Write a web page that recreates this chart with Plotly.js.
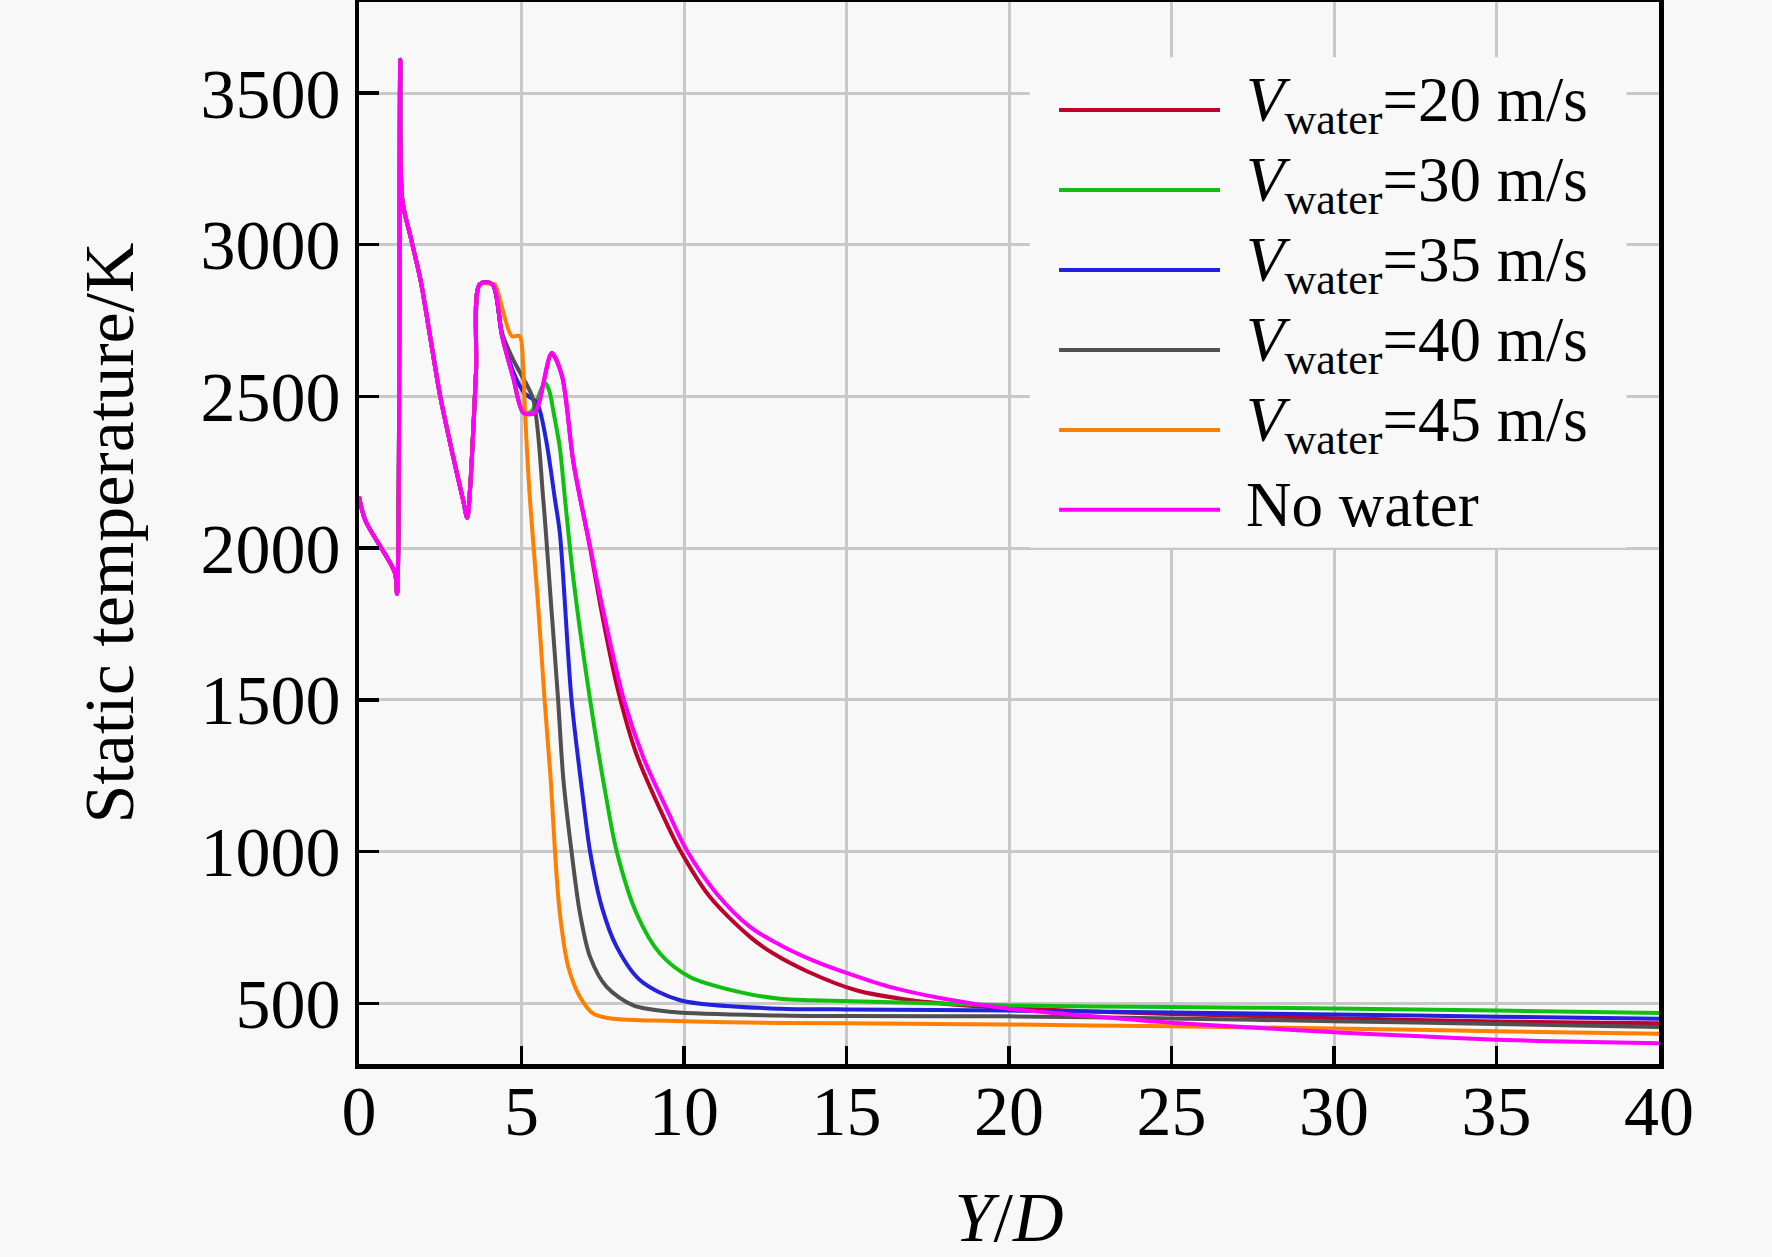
<!DOCTYPE html>
<html>
<head>
<meta charset="utf-8">
<script src="https://cdn.plot.ly/plotly-3.0.1.min.js"></script>
<style>
    html, body { margin: 0; padding: 0; background: #f8f8f8; }
    #temp-graph-container { width: 1772px; height: 1257px; }
</style>
</head>
<body>
<div id="temp-graph-container"></div>
<script>
//  ###################### DATA ######################

// part shared by every case, before the curves split
const baseYD   = [0, 0.2, 1.1, 1.17, 1.27, 1.33, 1.6, 1.9, 2.2, 2.5, 2.9, 3.2, 3.33, 3.42, 3.6, 3.72, 4.1];
const baseTemp = [2170, 2090, 1920, 1850, 3610, 3150, 3020, 2880, 2690, 2500, 2300, 2160, 2100, 2200, 2580, 2870, 2870];

const v20YD   = [4.4, 4.75, 5.06, 5.4, 5.93, 6.24, 6.6, 7.11, 7.5, 7.95, 8.54, 9.26, 9.85, 10.8, 12.03, 12.75, 13.8, 15.3, 17, 19, 20, 22.5, 25, 27.5, 30, 32.5, 35, 37.5, 40];
const v20Temp = [2700, 2560, 2446, 2446, 2640, 2570, 2281, 2000, 1770, 1540, 1320, 1140, 1010, 850, 719, 664, 605, 543, 510, 490, 484, 473, 465, 458, 451, 445, 440, 437, 434];

const v30YD   = [4.4, 4.75, 5.06, 5.3, 5.72, 5.85, 6.0, 6.18, 6.34, 6.6, 7.11, 7.62, 7.93, 8.54, 9.26, 10.18, 11.72, 12.95, 13.9, 16.7, 20, 25, 30, 35, 40];
const v30Temp = [2700, 2560, 2446, 2450, 2545, 2520, 2440, 2330, 2160, 1896, 1500, 1170, 1000, 796, 664, 587, 537, 515, 510, 503, 493, 488, 483, 476, 468];

const v35YD   = [4.4, 4.75, 5.1, 5.47, 5.75, 6.03, 6.18, 6.54, 6.9, 7.11, 7.47, 7.93, 8.65, 9.88, 12.95, 15, 20, 25, 30, 35, 40];
const v35Temp = [2705, 2580, 2510, 2480, 2360, 2160, 2050, 1500, 1170, 1000, 818, 686, 576, 510, 482, 480, 476, 470, 463, 456, 449];

const v40YD   = [4.4, 4.75, 5.0, 5.36, 5.67, 5.9, 6.12, 6.29, 6.54, 6.8, 7.11, 7.62, 8.44, 9.67, 12.95, 15, 20, 25, 30, 35, 40];
const v40Temp = [2710, 2620, 2570, 2490, 2160, 1830, 1510, 1236, 1000, 796, 653, 554, 493, 471, 460, 458, 457, 450, 441, 432, 422];

const v45YD   = [4.18, 4.7, 4.94, 5.05, 5.11, 5.26, 5.5, 5.71, 5.9, 6.03, 6.18, 6.44, 6.8, 7.21, 7.82, 9.67, 12.95, 15, 20, 25, 30, 35, 40];
const v45Temp = [2870, 2699, 2699, 2600, 2446, 2160, 1830, 1500, 1236, 1000, 796, 620, 521, 466, 449, 442, 435, 434, 430, 424, 417, 408, 400];

const noWaterYD   = [4.4, 4.75, 5.06, 5.4, 5.93, 6.24, 6.6, 7.11, 7.42, 8.15, 8.75, 9.47, 10.08, 11.0, 12.03, 13.0, 14.0, 15, 16.3, 18, 20, 22.5, 25, 27.5, 30, 32.5, 35, 37.5, 40];
const noWaterTemp = [2700, 2560, 2446, 2446, 2644, 2570, 2281, 2006, 1841, 1500, 1310, 1140, 1005, 862, 752, 690, 640, 600, 555, 515, 482, 458, 436, 420, 405, 392, 380, 373, 368];

const seriesNames = [
    "<i>V</i><sub>water</sub>=20 m/s",
    "<i>V</i><sub>water</sub>=30 m/s",
    "<i>V</i><sub>water</sub>=35 m/s",
    "<i>V</i><sub>water</sub>=40 m/s",
    "<i>V</i><sub>water</sub>=45 m/s",
    "No water",
];
const seriesColors = ["#c0002c", "#10c010", "#2222dd", "#505050", "#ff8000", "#ff00ff"];

const xTicks = [0, 5, 10, 15, 20, 25, 30, 35, 40];
const yTicks = [500, 1000, 1500, 2000, 2500, 3000, 3500];

//  ###################### GRAPH ######################

const FONT = "'Liberation Serif', 'Times New Roman', serif";

function drawTempGraph(){

    const tails = [
        [v20YD, v20Temp], [v30YD, v30Temp], [v35YD, v35Temp],
        [v40YD, v40Temp], [v45YD, v45Temp], [noWaterYD, noWaterTemp],
    ];

    const tempPlotData = tails.map((t, i) => ({
        x: baseYD.concat(t[0]),
        y: baseTemp.concat(t[1]),
        mode: "lines",
        name: seriesNames[i],
        line: { color: seriesColors[i], width: 4, shape: "spline", smoothing: 0.85 },
    }));

    // hand made legend (long line samples, like the original figure)
    const legendShapes = [{
        type: "rect", xref: "paper", yref: "paper", layer: "above",
        x0: 0.516, x1: 0.975, y0: 0.486, y1: 0.948,
        fillcolor: "#f8f8f8", line: { width: 0 },
    }];
    const legendNotes = [];
    seriesNames.forEach((name, i) => {
        const yRow = 0.8983 - i * 0.0753;
        legendShapes.push({
            type: "line", xref: "paper", yref: "paper", layer: "above",
            x0: 0.5385, x1: 0.6623, y0: yRow, y1: yRow,
            line: { color: seriesColors[i], width: 4 },
        });
        legendNotes.push({
            xref: "paper", yref: "paper", x: 0.6805, y: yRow + 0.005,
            xanchor: "left", yanchor: "middle", showarrow: false,
            text: name, font: { family: FONT, size: 63, color: "#000" },
        });
    });

    const tempPlotLayout = {
        width: 1772,
        height: 1257,
        paper_bgcolor: "#f8f8f8",
        plot_bgcolor: "#f8f8f8",
        font: { family: FONT, size: 70, color: "#000" },
        margin: { t: 2, b: 193, l: 359, r: 113 },
        showlegend: false,
        xaxis: {
            range: [0, 40], tickvals: xTicks, ticks: "inside", ticklen: 18, tickwidth: 3.5, tickcolor: "#000",
            ticklabelstandoff: -18,
            showline: true, mirror: true, linecolor: "#000", linewidth: 4.5,
            showgrid: true, gridcolor: "#c8c8c8", gridwidth: 3, zeroline: false,
            title: { text: "<i>Y</i>/<i>D</i>", font: { size: 70 }, standoff: 45 },
        },
        yaxis: {
            range: [300, 3800], tickvals: yTicks, ticks: "inside", ticklen: 20, tickwidth: 3.5, tickcolor: "#000",
            showline: true, mirror: true, linecolor: "#000", linewidth: 4.5,
            showgrid: true, gridcolor: "#c8c8c8", gridwidth: 3, zeroline: false,
            title: { text: "Static temperature/K", font: { size: 70 }, standoff: 45 },
        },
        shapes: legendShapes,
        annotations: legendNotes,
    };

    const tempPlotConfig = {
        staticPlot: true,
    };

    Plotly.newPlot("temp-graph-container", tempPlotData, tempPlotLayout, tempPlotConfig);
}

drawTempGraph();
</script>
</body>
</html>
